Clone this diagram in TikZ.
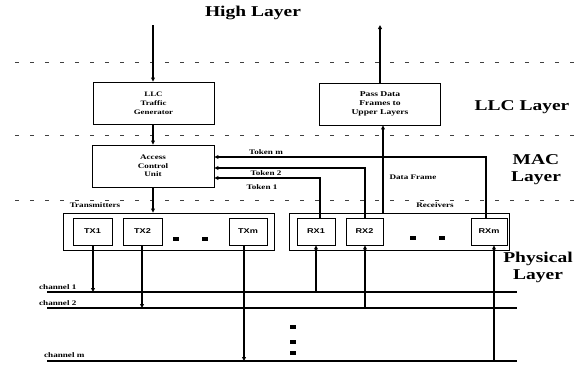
\documentclass[tikz,border=0pt]{standalone}
\usepackage{fontspec}
\setmainfont{Liberation Serif}
\newfontfamily\stretchserif[FakeStretch=1.3]{Liberation Serif}
\newfontfamily\stretchsans[FakeStretch=1.3]{Liberation Sans}
\usetikzlibrary{arrows.meta}
\begin{document}
\begin{tikzpicture}[x=1pt,y=-1pt,
  layerlbl/.style={font=\stretchserif\bfseries\fontsize{15}{17}\selectfont, align=center, inner sep=0pt},
  smalltxt/.style={font=\stretchserif\bfseries\fontsize{7}{8.5}\selectfont, inner sep=0pt},
  boxtxt/.style={draw, line width=0.8pt, align=center, inner sep=0pt, minimum width=122pt, minimum height=42pt},
  grp/.style={draw, line width=0.8pt, inner sep=0pt, minimum height=37pt},
  unit/.style={draw, line width=0.8pt, inner sep=0pt, minimum width=38pt, minimum height=27pt, font=\stretchsans\bfseries\fontsize{7}{8}\selectfont},
  arr/.style={line width=1.3pt, -{Triangle[length=4pt,width=3.8pt]}},
  chan/.style={line width=1.3pt},
  dline/.style={line width=0.5pt, black!75, dash pattern=on 4pt off 11pt},
  dotsq/.style={fill=black, inner sep=0pt, minimum width=6pt, minimum height=4pt}
]
\useasboundingbox (0,0) rectangle (582,365);

% dashed layer separators
\coordinate (d1a) at (15,62);  \coordinate (d1b) at (578,62);
\coordinate (d2a) at (15,135); \coordinate (d2b) at (578,135);
\coordinate (d3a) at (15,200); \coordinate (d3b) at (578,200);
\draw[dline] (d1a) -- (d1b);
\draw[dline] (d2a) -- (d2b);
\draw[dline] (d3a) -- (d3b);

% layer labels
\node[layerlbl] (high) at (253,13) {High Layer};
\node[layerlbl] (llcl) at (522,107) {LLC Layer};
\node[layerlbl] (macl) at (536,170) {MAC\\Layer};
\node[layerlbl] (phyl) at (538,267) {Physical\\Layer};

% main boxes
\node[boxtxt, minimum width=121pt, font=\stretchserif\bfseries\fontsize{6.8}{9}\selectfont] (llc) at (153.5,103) {LLC\\Traffic\\Generator};
\node[boxtxt, minimum width=121pt, font=\stretchserif\bfseries\fontsize{7.4}{9}\selectfont] (pass) at (380,104) {Pass Data\\Frames to\\Upper Layers};
\node[boxtxt, font=\stretchserif\bfseries\fontsize{7}{8.7}\selectfont] (acu) at (153,166) {Access\\Control\\Unit};

% groups
\node[grp, minimum width=211pt] (txg) at (168.5,231.5) {};
\node[grp, minimum width=220pt] (rxg) at (399,231.5) {};
\node[smalltxt] (txl) at (95,205) {Transmitters};
\node[smalltxt] (rxl) at (435,205) {Receivers};

\node[unit, minimum width=39pt] (tx1) at (92.5,231.5) {TX1};
\node[unit, minimum width=39pt] (tx2) at (142.5,231.5) {TX2};
\node[unit] (txm) at (248,231.5) {TXm};
\node[unit] (rx1) at (316,231.5) {RX1};
\node[unit, minimum width=37pt] (rx2) at (364.5,231.5) {RX2};
\node[unit, minimum width=36pt] (rxm) at (489,231.5) {RXm};

\node[dotsq] (td1) at (176,239) {};
\node[dotsq] (td2) at (205,239) {};
\node[dotsq] (rd1) at (413,238) {};
\node[dotsq] (rd2) at (442,238) {};
\node[dotsq] (vd1) at (293,327) {};
\node[dotsq] (vd2) at (293,342) {};
\node[dotsq] (vd3) at (293,353) {};

% channels
\coordinate (c1a) at (47,292);  \coordinate (c1b) at (517,292);
\coordinate (c2a) at (47,308);  \coordinate (c2b) at (517,308);
\coordinate (cma) at (47,361);  \coordinate (cmb) at (517,361);
\draw[chan] (c1a) -- (c1b);
\draw[chan] (c2a) -- (c2b);
\draw[chan] (cma) -- (cmb);
\node[smalltxt, anchor=west] (c1l) at (39,287) {channel 1};
\node[smalltxt, anchor=west] (c2l) at (39,303) {channel 2};
\node[smalltxt, anchor=west] (cml) at (44,355) {channel m};

% vertical flow on the left
\coordinate (hightop) at (153,25);
\draw[arr] (hightop) -- (hightop |- llc.north);
\draw[arr] (llc.south -| hightop) -- (acu.north -| hightop);
\draw[arr] (acu.south -| hightop) -- (txg.north -| hightop);

% transmitters to channels
\coordinate (t1x) at (93,0);
\coordinate (t2x) at (142,0);
\coordinate (tmx) at (244,0);
\draw[arr] (tx1.south -| t1x) -- (c1a -| t1x);
\draw[arr] (tx2.south -| t2x) -- (c2a -| t2x);
\draw[arr] (txm.south -| tmx) -- (cma -| tmx);

% channels to receivers
\coordinate (r1x) at (316,0);
\coordinate (r2x) at (365,0);
\coordinate (rmx) at (494,0);
\draw[arr] (c1a -| r1x) -- (rx1.south -| r1x);
\draw[arr] (c2a -| r2x) -- (rx2.south -| r2x);
\draw[arr] (cma -| rmx) -- (rxm.south -| rmx);

% data frame up
\coordinate (dfx) at (383,0);
\draw[arr] (rxg.north -| dfx) -- (pass.south -| dfx);
\node[smalltxt] (dfl) at (413,177) {Data Frame};
\coordinate (passtop) at (380,25);
\draw[arr] (pass.north) -- (passtop);

% tokens
\coordinate (tkm) at (486,157);
\coordinate (tk2) at (365,168);
\coordinate (tk1) at (320,178);
\draw[arr] (rxm.north -| tkm) -- (tkm) -- (tkm -| acu.east);
\draw[arr] (rx2.north -| tk2) -- (tk2) -- (tk2 -| acu.east);
\draw[arr] (rx1.north -| tk1) -- (tk1) -- (tk1 -| acu.east);
\node[smalltxt] (tkml) at (266,152) {Token m};
\node[smalltxt] (tk2l) at (266,173) {Token 2};
\node[smalltxt] (tk1l) at (262,187) {Token 1};
\end{tikzpicture}
\end{document}
